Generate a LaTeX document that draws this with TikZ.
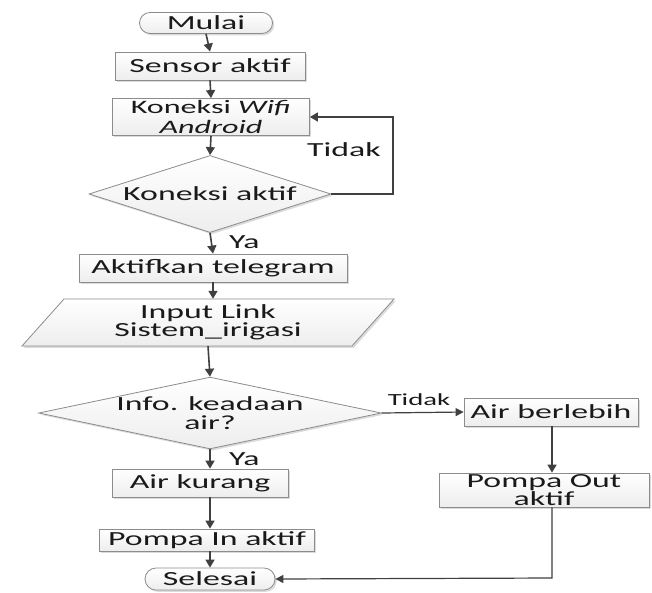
\documentclass[tikz,border=0pt]{standalone}
\usepackage{fontspec}
\setmainfont{Carlito}
\usetikzlibrary{arrows.meta,shapes.geometric,shapes.misc,shadows}
\newcommand{\T}[1]{\scalebox{1.69}[1]{#1}}
\definecolor{linec}{HTML}{404040}
\definecolor{borderc}{HTML}{8C8C8C}
\definecolor{txtc}{HTML}{1A1A1A}
\tikzset{
  base/.style={draw=borderc, line width=0.8pt, top color=white, bottom color=gray!14,
    text=txtc, inner sep=0pt, align=center,
    font=\fontsize{20}{18.5}\selectfont,
    drop shadow={shadow xshift=1.8pt, shadow yshift=-1.8pt, fill=gray!40, opacity=0.7}},
  procbox/.style={base, rectangle},
  termbox/.style={base, rounded rectangle},
  decbox/.style={base, diamond},
  flow/.style={draw=linec, line width=1.6pt, -{Triangle[length=8pt,width=9pt]}},
  thinflow/.style={draw=linec, line width=1.2pt, -{Triangle[length=8pt,width=8pt]}},
  lbl/.style={text=txtc, inner sep=0pt, font=\fontsize{20}{18.5}\selectfont},
  slbl/.style={text=txtc, inner sep=0pt, font=\fontsize{17}{17}\selectfont}
}
\begin{document}
\begin{tikzpicture}[x=1pt,y=-1pt]
\useasboundingbox (0,0) rectangle (652,592);
\fill[white] (0,0) rectangle (652,592);

\node[termbox, minimum width=133pt, minimum height=21pt] (mulai) at (206,23) {\T{Mulai}};
\node[procbox, minimum width=190pt, minimum height=28pt] (sensor) at (210,66) {\T{Sensor aktif}};
\node[procbox, minimum width=197pt, minimum height=37pt, font=\fontsize{19}{19}\selectfont] (wifi) at (211,117) {\T{Koneksi \textit{Wifi}}\\[1pt]\T{\textit{Android}}};
\node[decbox, minimum width=242pt, minimum height=77pt, shape aspect=3.14] (d1) at (210,194) {\T{Koneksi aktif}};
\node[procbox, minimum width=268pt, minimum height=28pt] (akt) at (213,268) {\T{Aktifkan telegram}};

% parallelogram (input)
\path[base] (22,346) -- (64,299) -- (394,299) -- (352,346) -- cycle;
\node[lbl, align=center, minimum width=290pt, minimum height=47pt] (input) at (208,322.5) {\T{Input Link}\\\T{Sistem\_irigasi}};

\node[decbox, minimum width=334pt, minimum height=70pt, shape aspect=4.77] (d2) at (210,413) {\T{Info. keadaan}\\\T{air?}};
\node[procbox, minimum width=176pt, minimum height=28pt] (kurang) at (200,483) {\T{Air kurang}};
\node[procbox, minimum width=215pt, minimum height=22pt] (pin) at (207,540) {\T{Pompa In aktif}};
\node[termbox, minimum width=130pt, minimum height=22pt] (selesai) at (210,579) {\T{Selesai}};
\node[procbox, minimum width=174pt, minimum height=28pt] (lebih) at (551,412) {\T{Air berlebih}};
\node[procbox, minimum width=210pt, minimum height=34pt] (pout) at (544,490) {\T{Pompa Out}\\\T{aktif}};

\coordinate (loopA) at (393,194);
\coordinate (loopB) at (393,117);
\coordinate (endA) at (552,578);

% connectors
\draw[flow] (mulai.south) -- (sensor.north);
\draw[flow] (sensor.south) -- (wifi.north);
\draw[flow] (wifi.south) -- (d1.north);
\draw[draw=linec, line width=1.4pt, -{Triangle[length=8pt,width=9pt]}] (d1.east) -- (loopA) -- (loopB) -- (wifi.east);
\node[lbl] (tidak1) at (344,150) {\T{Tidak}};
\draw[flow] (d1.south) -- (akt.north);
\node[lbl, anchor=west] (ya1) at (229,242) {\T{Ya}};
\draw[flow] (akt.south) -- (akt.south |- input.north);
\draw[flow] (input.south) -- (d2.north);
\draw[flow] (d2.south) -- (d2.south |- kurang.north);
\node[lbl, anchor=west] (ya2) at (229,459) {\T{Ya}};
\draw[flow] (d2.south |- kurang.south) -- (d2.south |- pin.north);
\draw[flow] (d2.south |- pin.south) -- (selesai.north);
\draw[thinflow] (d2.east) -- (lebih.west);
\node[slbl] (tidak2) at (419,400) {\T{Tidak}};
\draw[flow] (lebih.south -| endA) -- (pout.north -| endA);
\draw[thinflow] (pout.south -| endA) -- (endA) -- (selesai.east);
\end{tikzpicture}
\end{document}
